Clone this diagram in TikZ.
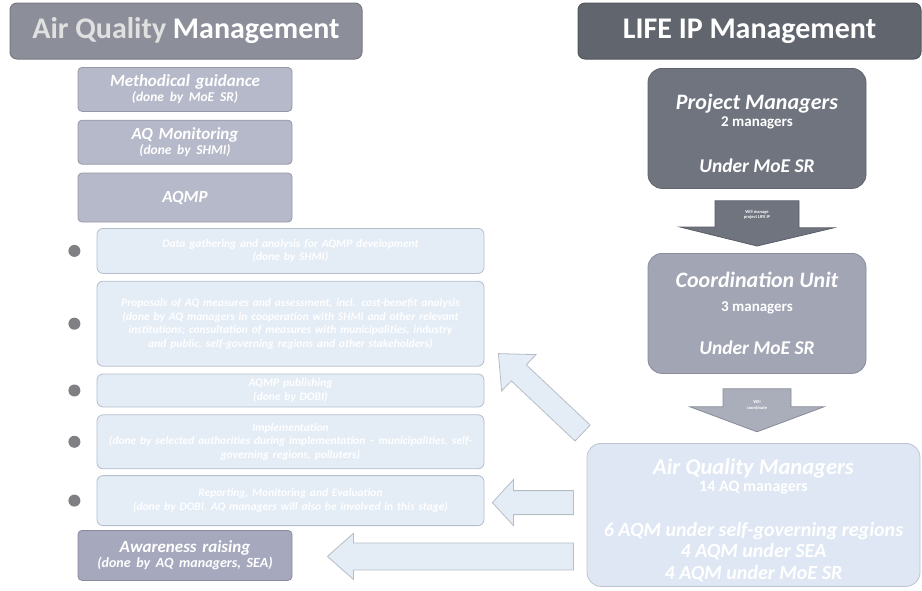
\documentclass[tikz,border=0pt]{standalone}
\usepackage{fontspec}
\setmainfont{Carlito}
\usepackage{tikz}
\usetikzlibrary{positioning, calc}
\definecolor{titlegrey}{RGB}{140, 143, 153}
\definecolor{lifegrey}{RGB}{96, 101, 110}
\definecolor{stepcolor}{RGB}{182, 185, 201}
\definecolor{awarecolor}{RGB}{166, 169, 190}
\definecolor{taskcolor}{RGB}{228, 236, 246}
\definecolor{taskborder}{RGB}{182, 189, 205}
\definecolor{pmcolor}{RGB}{112, 116, 127}
\definecolor{cucolor}{RGB}{161, 165, 180}
\definecolor{aqmcolor}{RGB}{222, 231, 243}
\definecolor{dotcolor}{RGB}{128, 128, 132}

\begin{document}
\begin{tikzpicture}[
    x=1pt, y=-1pt,
    node distance=8pt,
    titlebox/.style={fill=#1, draw=#1!85!black, line width=1pt, rounded corners=7pt, minimum height=56pt, text=white, font=\fontsize{30}{32}\selectfont\bfseries},
    stepbox/.style={fill=stepcolor, draw=stepcolor!82!black, line width=0.8pt, rounded corners=4pt, minimum width=214pt, text width=206pt, align=center, text=white, font=\fontsize{17}{15}\selectfont\bfseries\itshape},
    taskbox/.style={fill=taskcolor, draw=taskborder, line width=0.8pt, rounded corners=6pt, minimum width=387pt, text width=378pt, align=center, text=white, font=\fontsize{11.5}{13.5}\selectfont\bfseries\itshape},
    unitbox/.style={fill=#1, draw=#1!85!black, line width=0.8pt, rounded corners=14pt, minimum width=218pt, minimum height=120pt, align=center, text=white, font=\fontsize{22}{17}\selectfont\bfseries},
    bullet/.style={circle, fill=dotcolor, minimum size=12pt, inner sep=0pt},
    fatarrow/.style={fill=#1, draw=#1!80!black, line width=0.8pt},
    note/.style={font=\fontsize{4.5}{5.5}\selectfont\bfseries, text=white, align=center, inner sep=0pt}
]
    \useasboundingbox (0,0) rectangle (922,590);

    % Titles
    \node[titlebox=titlegrey, minimum width=352pt] (aqtitle) at (186,31) {{\color{white!88!black}Air Quality} Management};
    \node[titlebox=lifegrey, minimum width=343pt] (lifetitle) at (749.5,31) {LIFE IP Management};

    % Air quality management steps
    \node[stepbox, minimum height=44pt, anchor=north] (guide) at (185,67) {Methodical guidance\\{\fontsize{13.5}{15}\selectfont (done by MoE SR)}};
    \node[stepbox, minimum height=44pt, below=8pt of guide] (monitor) {AQ Monitoring\\{\fontsize{13.5}{15}\selectfont (done by SHMI)}};
    \node[stepbox, minimum height=49pt, below=8pt of monitor] (aqmp) {AQMP};

    \node[taskbox, minimum height=45pt, anchor=north] (gather) at (290.5,228) {Data gathering and analysis for AQMP development\\(done by SHMI)};
    \node[taskbox, minimum height=85pt, below=7pt of gather] (measures) {Proposals of AQ measures and assessment, incl. cost-benefit analysis\\(done by AQ managers in cooperation with SHMI and other relevant\\institutions; consultation of measures with municipalities, industry\\and public, self-governing regions and other stakeholders)};
    \node[taskbox, minimum height=33pt, below=7pt of measures] (publish) {AQMP publishing\\(done by DOBI)};
    \node[taskbox, minimum height=54pt, below=7pt of publish] (implement) {Implementation\\(done by selected authorities during implementation -- municipalities, self-\\governing regions, polluters)};
    \node[taskbox, minimum height=50pt, below=6pt of implement] (report) {Reporting, Monitoring and Evaluation\\(done by DOBI. AQ managers will also be involved in this stage)};
    \node[stepbox, fill=awarecolor, draw=awarecolor!82!black, minimum height=50pt, anchor=north] (aware) at (185,530) {Awareness raising\\{\fontsize{14}{15}\selectfont (done by AQ managers, SEA)}};

    \foreach \t in {gather, measures, publish, implement, report}
        \node[bullet, left=16pt of \t] (dot-\t) {};

    % LIFE IP management units
    \node[unitbox=pmcolor, anchor=north] (pm) at (757,68) {\mbox{}\\[8.5pt]{\itshape Project Managers}\\{\fontsize{15}{17}\selectfont 2 managers}\\[29pt]{\fontsize{19.5}{20}\selectfont\itshape Under MoE SR}};
    \node[unitbox=cucolor, anchor=north] (cu) at (757,253) {{\itshape Coordination Unit}\\[7pt]{\fontsize{15}{17}\selectfont 3 managers}\\[26pt]{\fontsize{19.5}{20}\selectfont\itshape Under MoE SR}};
    \node[unitbox=aqmcolor, minimum width=333pt, minimum height=143pt, anchor=north, font=\fontsize{20}{21.5}\selectfont\bfseries\itshape] (aqm) at (753.5,443) {\mbox{}\\[4.5pt]{\fontsize{22.5}{21.5}\selectfont Air Quality Managers}\\[-4.5pt]{\upshape\fontsize{16}{17}\selectfont 14 AQ managers}\\[23.5pt]6 AQM under self-governing regions\\4 AQM under SEA\\4 AQM under MoE SR};

    % Block arrows
    \draw[fatarrow=pmcolor] ($(pm.south)+(-42,12)$) -- ++(84,0) -- ++(0,27) -- ++(35,0) -- ($(cu.north)+(0,-7)$) -- ++(-77,-19) -- ++(35,0) -- cycle;
    \node[note] (manage) at ($(pm.south)+(0,26)$) {Will manage\\project LIFE IP};
    \draw[fatarrow=cucolor!90!white] ($(cu.south)+(-34,15)$) -- ++(68,0) -- ++(0,18) -- ++(33,0) -- ($(cu.south)+(0,58)$) -- ++(-67,-25) -- ++(33,0) -- cycle;
    \node[note] (coordinate) at ($(cu.south)+(0,31)$) {Will\\coordinate};

    \draw[fatarrow=taskcolor] ($(report.east)+(8,2)$) -- ++(21,-23) -- ++(0,11) -- ++(60,0) -- ++(0,24) -- ++(-60,0) -- ++(0,11) -- cycle;
    \draw[fatarrow=taskcolor] ($(aware.east)+(35,1)$) -- ++(26,-23) -- ++(0,9.5) -- ++(220,0) -- ++(0,27) -- ++(-220,0) -- ++(0,9.5) -- cycle;

    \coordinate (dtail) at ($(aqm.north west)+(-4,-10)$);
    \coordinate (dtip) at ($(measures.south east)+(14,-13)$);
    \coordinate (dhead) at ($(dtip)!28pt!(dtail)$);
    \draw[fatarrow=taskcolor] ($(dtail)!11pt!90:(dtip)$) -- ($(dhead)!11pt!-90:(dtail)$) -- ($(dhead)!25pt!-90:(dtail)$) -- (dtip) -- ($(dhead)!25pt!90:(dtail)$) -- ($(dhead)!11pt!90:(dtail)$) -- ($(dtail)!11pt!-90:(dtip)$) -- cycle;

\end{tikzpicture}
\end{document}
